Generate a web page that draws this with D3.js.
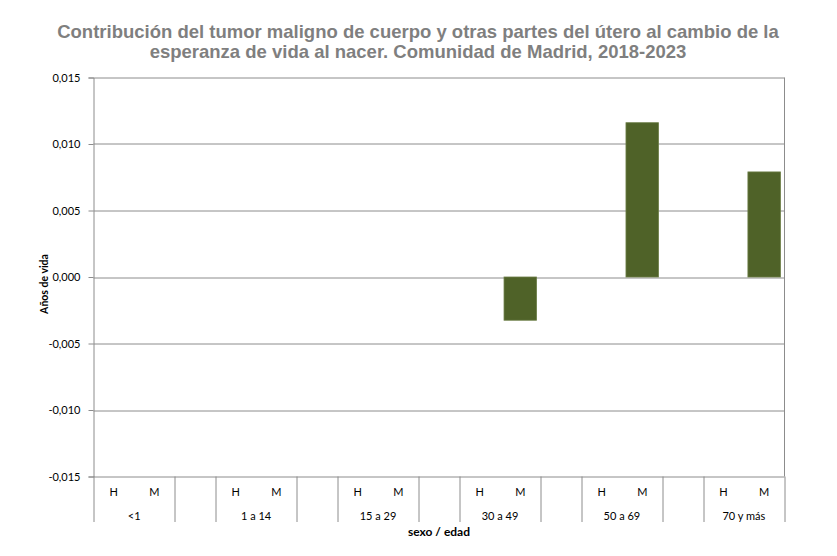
<!DOCTYPE html>
<html>
<head>
<meta charset="utf-8">
<script src="https://cdn.jsdelivr.net/npm/d3@7"></script>
<style>
  body { margin: 0; background: #fff; }
  svg { display: block; }
</style>
</head>
<body>
<svg id="chart" width="837" height="556"></svg>
<script>
// Contribución del tumor maligno de cuerpo y otras partes del útero — Madrid 2018-2023
const groups = ["<1", "1 a 14", "15 a 29", "30 a 49", "50 a 69", "70 y más"];
const sexes = ["H", "M"];
// values per group, [H, M]; null = no bar
const valuesH = [null, null, null, null, null, null];
const valuesM = [null, null, null, -0.00325, 0.0116, 0.0079];
const yTicks = [-0.015, -0.01, -0.005, 0, 0.005, 0.01, 0.015];
const titleLines = [
  "Contribución del tumor maligno de cuerpo y otras partes del útero al cambio de la",
  "esperanza de vida al nacer. Comunidad de Madrid, 2018-2023"
];

const svg = d3.select("#chart");
const margin = { top: 77.5, right: 52.5, bottom: 79.5, left: 93.5 };
const width = 837, height = 556;
const innerWidth = width - margin.left - margin.right;
const innerHeight = height - margin.top - margin.bottom;

// flat category list: H, M, gap, H, M, gap, ... (no trailing gap)
const cats = [];
groups.forEach((g, gi) => {
  sexes.forEach((s, si) => {
    cats.push({ key: g + "|" + s, group: g, sex: s, value: si === 0 ? valuesH[gi] : valuesM[gi] });
  });
  if (gi < groups.length - 1) cats.push({ key: g + "|gap", group: g, sex: null, value: null });
});

const x = d3.scaleBand().domain(cats.map(d => d.key)).range([0, innerWidth]).paddingInner(0.2).paddingOuter(0.1);
const xStep = d3.scaleBand().domain(cats.map(d => d.key)).range([0, innerWidth]);
const y = d3.scaleLinear().domain([-0.015, 0.015]).range([innerHeight, 0]);

const chart = svg.append("g").attr("transform", `translate(${margin.left},${margin.top})`);

// title
svg.append("g").selectAll("text")
  .data(titleLines)
  .join("text")
  .attr("x", 418)
  .attr("y", (d, i) => 38 + i * 20)
  .attr("text-anchor", "middle")
  .attr("fill", "#7f7f7f")
  .attr("font-family", "Liberation Sans, Arial, sans-serif")
  .attr("font-weight", 700)
  .attr("font-size", 18.5)
  .text(d => d);

// gridlines
chart.append("g").selectAll("line")
  .data(yTicks)
  .join("line")
  .attr("x1", 0).attr("x2", innerWidth)
  .attr("y1", d => Math.round(y(d)) + 0.5).attr("y2", d => Math.round(y(d)) + 0.5)
  .attr("stroke", "#8c8c8c")
  .attr("stroke-width", 1);

// right border
chart.append("line")
  .attr("x1", innerWidth).attr("x2", innerWidth)
  .attr("y1", 0).attr("y2", innerHeight)
  .attr("stroke", "#8c8c8c");

// y axis
const yAxis = chart.append("g")
  .call(d3.axisLeft(y).tickValues(yTicks).tickSize(5).tickPadding(8)
    .tickFormat(d => d3.format(".3f")(d).replace("−", "-").replace(".", ",")));
yAxis.select(".domain").attr("stroke", "#8c8c8c");
yAxis.selectAll(".tick line").attr("stroke", "#8c8c8c");
yAxis.selectAll(".tick text")
  .attr("fill", "#000")
  .attr("font-family", "Lato, Open Sans, sans-serif")
  .attr("font-size", 11);

// bars
chart.append("g").selectAll("rect")
  .data(cats.filter(d => d.value != null))
  .join("rect")
  .attr("x", d => x(d.key))
  .attr("width", x.bandwidth())
  .attr("y", d => y(Math.max(0, d.value)))
  .attr("height", d => Math.abs(y(d.value) - y(0)))
  .attr("fill", "#4f6228")
  .attr("stroke", "#6b7d45")
  .attr("stroke-width", 0.8);

// x axis: category separators
const sepBottom = 522 - margin.top;
const seps = [0, innerWidth];
cats.forEach(d => {
  if (d.sex === null) {
    seps.push(xStep(d.key), xStep(d.key) + xStep.bandwidth());
  }
});
chart.append("g").selectAll("line")
  .data(seps)
  .join("line")
  .attr("x1", d => Math.round(d) + 0.5).attr("x2", d => Math.round(d) + 0.5)
  .attr("y1", innerHeight).attr("y2", sepBottom)
  .attr("stroke", "#8c8c8c");

// H / M labels
chart.append("g").selectAll("text")
  .data(cats.filter(d => d.sex))
  .join("text")
  .attr("x", d => xStep(d.key) + xStep.bandwidth() / 2)
  .attr("y", 496 - margin.top)
  .attr("text-anchor", "middle")
  .attr("font-family", "Lato, Open Sans, sans-serif")
  .attr("font-size", 11)
  .attr("fill", "#000")
  .text(d => d.sex);

// group labels
chart.append("g").selectAll("text")
  .data(groups)
  .join("text")
  .attr("x", g => xStep(g + "|H") + xStep.bandwidth())
  .attr("y", 520 - margin.top)
  .attr("text-anchor", "middle")
  .attr("font-family", "Lato, Open Sans, sans-serif")
  .attr("font-size", 11)
  .attr("fill", "#000")
  .text(g => g);

// axis titles
svg.append("text")
  .attr("x", margin.left + innerWidth / 2)
  .attr("y", 536)
  .attr("text-anchor", "middle")
  .attr("font-family", "Lato, Open Sans, sans-serif")
  .attr("font-weight", 700)
  .attr("font-size", 12)
  .text("sexo / edad");

svg.append("text")
  .attr("transform", "translate(48,284) rotate(-90)")
  .attr("text-anchor", "middle")
  .attr("font-family", "Lato, Open Sans, sans-serif")
  .attr("font-weight", 700)
  .attr("font-size", 10.5)
  .text("Años de vida");
</script>
</body>
</html>
